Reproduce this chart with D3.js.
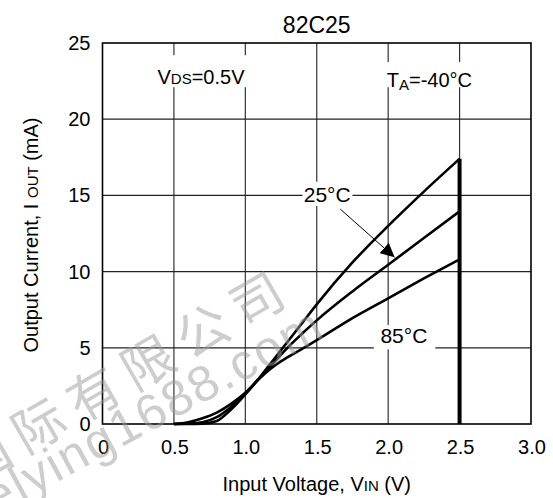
<!DOCTYPE html>
<html>
<head>
<meta charset="utf-8">
<script src="https://cdn.jsdelivr.net/npm/d3@7"></script>
<style>
body { margin: 0; background: #fff; }
svg text { font-family: "Liberation Sans", Arial, Helvetica, sans-serif; fill: #000; }
</style>
</head>
<body>
<div id="chart"></div>
<script>
// input voltage (V) and output current (mA) per temperature
var vin      = [0.5, 0.6, 0.7, 0.8, 0.9, 1.0, 1.1, 1.2, 1.3, 1.4, 1.5, 1.75, 2.0, 2.25, 2.5]
var iMinus40 = [0, 0, 0.02, 0.2, 0.95, 1.95, 3.05, 4.25, 5.45, 6.65, 7.85, 10.6, 13.0, 15.25, 17.4]
var i25      = [0, 0.03, 0.12, 0.45, 1.12, 2.0, 3.0, 4.05, 5.05, 5.95, 6.8, 8.7, 10.45, 12.2, 13.95]
var i85      = [0, 0.12, 0.38, 0.75, 1.32, 2.05, 3.0, 3.8, 4.4, 4.95, 5.5, 6.95, 8.25, 9.55, 10.8]

var xTicks = [0, 0.5, 1.0, 1.5, 2.0, 2.5, 3.0]
var xTickLabels = ["0", "0.5", "1.0", "1.5", "2.0", "2.5", "3.0"]
var yTicks = [0, 5, 10, 15, 20, 25]

var W = 553, H = 498

var x = d3.scaleLinear().domain([0, 3]).range([102.5, 531])
var y = d3.scaleLinear().domain([0, 25]).range([424, 43])

var svg = d3.select("#chart").append("svg")
    .attr("width", W)
    .attr("height", H)

// grid
svg.selectAll(".vgrid").data(xTicks.slice(1, -1))
  .enter().append("line")
  .attr("class", "vgrid")
  .attr("x1", d => x(d)).attr("x2", d => x(d))
  .attr("y1", y(0)).attr("y2", y(25))
  .attr("stroke", "#333").attr("stroke-width", 1.2)

svg.selectAll(".hgrid").data(yTicks.slice(1, -1))
  .enter().append("line")
  .attr("class", "hgrid")
  .attr("x1", x(0)).attr("x2", x(3))
  .attr("y1", d => y(d)).attr("y2", d => y(d))
  .attr("stroke", "#222").attr("stroke-width", 1.2)

// white boxes behind the labels that cut the grid
function box(x0, x1, y0, y1) {
  svg.append("rect")
    .attr("x", x(x0)).attr("y", y(y1))
    .attr("width", x(x1) - x(x0)).attr("height", y(y0) - y(y1))
    .attr("fill", "#fff")
}
box(0.38, 1.03, 22.1, 24.2)
box(1.98, 2.7, 22.1, 23.75)
box(1.4, 1.75, 14.3, 15.9)
box(1.9, 2.33, 4.9, 6.5)

// curves
var line = d3.line()
  .x(d => x(d[0]))
  .y(d => y(d[1]))
  .curve(d3.curveMonotoneX)

var series = [iMinus40, i25, i85]
svg.selectAll(".curve").data(series)
  .enter().append("path")
  .attr("class", "curve")
  .attr("d", s => line(vin.map((v, i) => [v, s[i]])))
  .attr("fill", "none")
  .attr("stroke", "#000")
  .attr("stroke-width", 2.6)

// thick limit line at 2.5 V
svg.append("line")
  .attr("x1", x(2.5)).attr("x2", x(2.5))
  .attr("y1", y(0)).attr("y2", y(d3.max(iMinus40)))
  .attr("stroke", "#000").attr("stroke-width", 4)

// frame
svg.append("rect")
  .attr("x", x(0)).attr("y", y(25))
  .attr("width", x(3) - x(0)).attr("height", y(0) - y(25))
  .attr("fill", "none").attr("stroke", "#000").attr("stroke-width", 1.6)

// arrow
svg.append("defs").append("marker")
  .attr("id", "head")
  .attr("viewBox", "0 0 10 10")
  .attr("refX", 10).attr("refY", 5)
  .attr("markerWidth", 14).attr("markerHeight", 14)
  .attr("markerUnits", "userSpaceOnUse")
  .attr("orient", "auto")
  .append("path").attr("d", "M0,0L10,5L0,10z").attr("fill", "#000")

svg.append("line")
  .attr("x1", x(1.665)).attr("y1", y(14.1))
  .attr("x2", x(2.045)).attr("y2", y(10.94))
  .attr("stroke", "#000").attr("stroke-width", 1)
  .attr("marker-end", "url(#head)")

// axis labels
svg.selectAll(".ytick").data(yTicks)
  .enter().append("text")
  .attr("class", "ytick")
  .attr("x", x(0) - 12)
  .attr("y", d => y(d) + 7)
  .attr("text-anchor", "end")
  .style("font-size", "20px")
  .text(d => d)

svg.selectAll(".xtick").data(xTicks)
  .enter().append("text")
  .attr("class", "xtick")
  .attr("x", d => x(d) + 1)
  .attr("y", 454)
  .attr("text-anchor", "middle")
  .style("font-size", "20px")
  .text((d, i) => xTickLabels[i])

svg.append("text")
  .attr("x", (x(0) + x(3)) / 2).attr("y", 33)
  .attr("text-anchor", "middle")
  .style("font-size", "23px")
  .text("82C25")

var xl = svg.append("text")
  .attr("x", (x(0) + x(3)) / 2).attr("y", 491)
  .attr("text-anchor", "middle")
  .style("font-size", "20px")
xl.append("tspan").text("Input Voltage, V")
xl.append("tspan").style("font-size", "15px").text("IN")
xl.append("tspan").text(" (V)")

var yl = svg.append("text")
  .attr("transform", "translate(37.5," + 235 + ") rotate(-90)")
  .attr("text-anchor", "middle")
  .style("font-size", "20px")
yl.append("tspan").text("Output Current, I ")
yl.append("tspan").style("font-size", "15px").text("OUT")
yl.append("tspan").text(" (mA)")

// annotations
var vds = svg.append("text")
  .attr("x", x(0.385)).attr("y", 84)
  .style("font-size", "20px")
vds.append("tspan").text("V")
vds.append("tspan").style("font-size", "15px").text("DS")
vds.append("tspan").text("=0.5V")

var ta = svg.append("text")
  .attr("x", x(1.99)).attr("y", 87)
  .style("font-size", "20px")
ta.append("tspan").text("T")
ta.append("tspan").style("font-size", "15px").attr("dy", 3).text("A")
ta.append("tspan").attr("dy", -3).text("=-40°C")

svg.append("text")
  .attr("x", x(1.573)).attr("y", 202)
  .attr("text-anchor", "middle")
  .style("font-size", "21px")
  .text("25°C")

svg.append("text")
  .attr("x", x(2.11)).attr("y", 343)
  .attr("text-anchor", "middle")
  .style("font-size", "21px")
  .text("85°C")

// watermark, one glyph per text so each sits on the slanted line
var wm = svg.append("g").attr("opacity", 0.5)

function watermark(str, x0, y0, angle, size, spacing, family) {
  var a = angle * Math.PI / 180
  var pos = 0
  str.split("").forEach(function(ch) {
    var t = wm.append("text")
      .attr("dominant-baseline", "central")
      .style("font-size", size + "px")
      .style("fill", "#9a9a9a")
      .text(ch)
    if (family) t.style("font-family", family)
    var w = t.node().getComputedTextLength()
    var cx = x0 + Math.cos(a) * (pos + w / 2)
    var cy = y0 + Math.sin(a) * (pos + w / 2)
    t.attr("text-anchor", "middle")
      .attr("transform", "translate(" + cx + "," + cy + ") rotate(" + angle + ")")
    pos += w + spacing
  })
}

watermark("国际有限公司", -40, 467, -30, 52, 11, "'Noto Sans CJK SC', sans-serif")
watermark("elying1688.com", -13, 501, -28.5, 50, 2)
</script>
</body>
</html>
